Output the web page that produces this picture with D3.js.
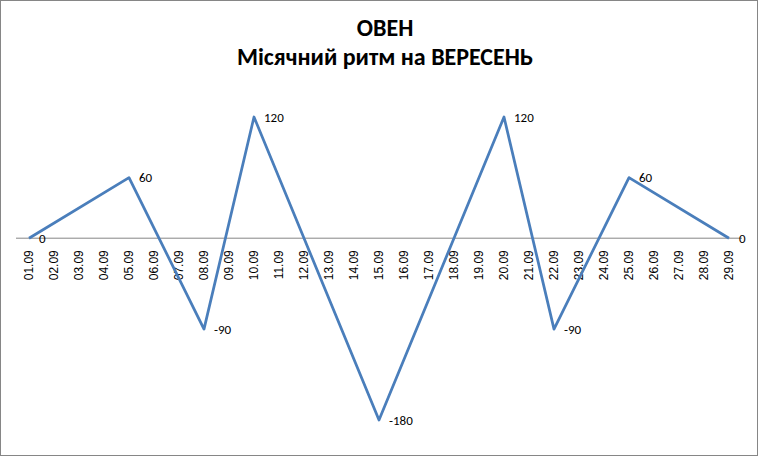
<!DOCTYPE html>
<html>
<head>
    <meta charset="utf-8">
    <title>ОВЕН</title>
    <script src="https://d3js.org/d3.v7.min.js"></script>
    <style>
        body { margin: 0; background: #fff; }
        #chart { display: block; }
        .title { font-family: Calibri, Carlito, "Open Sans", "Liberation Sans", sans-serif; font-weight: bold; font-size: 24px; }
        .tick-label { font-family: "Liberation Sans", Arial, sans-serif; font-size: 12px; fill: #000; }
        .data-label { font-family: Calibri, Carlito, "Open Sans", "Liberation Sans", sans-serif; font-size: 13px; fill: #000; }
    </style>
</head>
<body>
    <svg id="chart"></svg>
    <script>
        const width = 759;
        const height = 457;

        // categories (days of September)
        const days = ["01.09","02.09","03.09","04.09","05.09","06.09","07.09","08.09","09.09","10.09",
                      "11.09","12.09","13.09","14.09","15.09","16.09","17.09","18.09","19.09","20.09",
                      "21.09","22.09","23.09","24.09","25.09","26.09","27.09","28.09","29.09"];
        // only the turning points carry values, the line joins them
        const pointDays = ["01.09","05.09","08.09","10.09","15.09","20.09","22.09","25.09","29.09"];
        const pointValues = [0, 60, -90, 120, -180, 120, -90, 60, 0];

        const titleLines = ["ОВЕН", "Місячний ритм на ВЕРЕСЕНЬ"];

        const svg = d3.select("#chart")
            .attr("width", width)
            .attr("height", height);

        // chart border
        svg.append("rect")
            .attr("x", 0.5).attr("y", 0.5)
            .attr("width", width - 2).attr("height", height - 2)
            .attr("fill", "#fff")
            .attr("stroke", "#868686")
            .attr("stroke-width", 1);

        svg.selectAll(".title")
            .data(titleLines)
            .enter().append("text")
            .attr("class", "title")
            .attr("x", 385)
            .attr("y", (d, i) => 36 + i * 29)
            .attr("text-anchor", "middle")
            .text(d => d);

        const x = d3.scalePoint()
            .domain(days)
            .range([16.5, 741.5])
            .padding(0.5);

        const y = d3.scaleLinear()
            .domain([-180, 120])
            .range([420, 117]);

        // horizontal category axis at zero
        svg.append("line")
            .attr("x1", 16).attr("x2", 742)
            .attr("y1", y(0)).attr("y2", y(0))
            .attr("stroke", "#868686")
            .attr("stroke-width", 1);

        svg.selectAll(".tick-label")
            .data(days)
            .enter().append("text")
            .attr("class", "tick-label")
            .attr("transform", d => `translate(${x(d) + 4},${y(0) + 12}) rotate(-90)`)
            .attr("text-anchor", "end")
            .text(d => d);

        const points = pointDays.map((d, i) => ({ day: d, value: pointValues[i] }));

        const line = d3.line()
            .x(d => x(d.day))
            .y(d => y(d.value));

        svg.append("path")
            .datum(points)
            .attr("d", line)
            .attr("fill", "none")
            .attr("stroke", "#4a7ebb")
            .attr("stroke-width", 2.75)
            .attr("stroke-linejoin", "round");

        svg.selectAll(".data-label")
            .data(points)
            .enter().append("text")
            .attr("class", "data-label")
            .attr("x", d => x(d.day) + 10)
            .attr("y", d => y(d.value) + 4.5)
            .text(d => d.value);
    </script>
</body>
</html>
